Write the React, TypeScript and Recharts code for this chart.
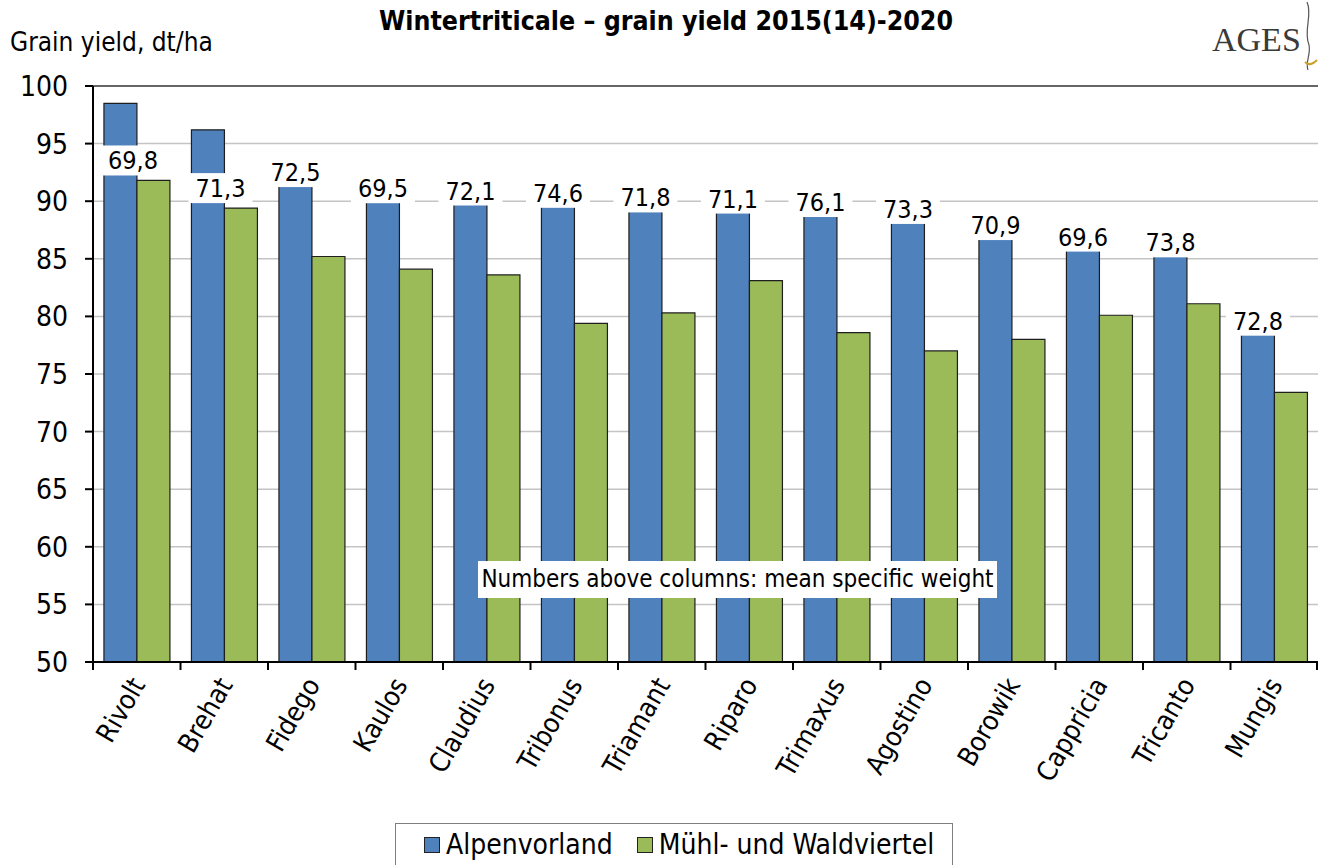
import React from "react";
import {
  Bar,
  BarChart,
  CartesianGrid,
  LabelList,
  ReferenceLine,
  XAxis,
  YAxis,
} from "recharts";

const categories = [
  "Rivolt", "Brehat", "Fidego", "Kaulos", "Claudius", "Tribonus", "Triamant",
  "Riparo", "Trimaxus", "Agostino", "Borowik", "Cappricia", "Tricanto", "Mungis",
];
const alpenvorland = [98.5, 96.2, 91.4, 90.0, 89.8, 89.6, 89.2, 89.1, 88.8, 88.2, 86.8, 85.8, 85.3, 78.5];
const muehlWaldviertel = [91.8, 89.4, 85.2, 84.1, 83.6, 79.4, 80.3, 83.1, 78.6, 77.0, 78.0, 80.1, 81.1, 73.4];
const specificWeight = ["69,8", "71,3", "72,5", "69,5", "72,1", "74,6", "71,8", "71,1", "76,1", "73,3", "70,9", "69,6", "73,8", "72,8"];
const yTicks = [50, 55, 60, 65, 70, 75, 80, 85, 90, 95, 100];

const FONT = "'DejaVu Sans Condensed', 'Noto Sans', sans-serif";
const BLUE = "#4f81bd";
const GREEN = "#9bbb59";
const W = 1318;
const H = 865;
const PLOT_LEFT = 93;
const PLOT_TOP = 86;
const PLOT_BOTTOM = 662;
const X_AXIS_H = 30;
const STEP = (W - PLOT_LEFT) / categories.length;

const data = categories.map((name, i) => ({
  name,
  alpen: alpenvorland[i],
  muehl: muehlWaldviertel[i],
  sw: specificWeight[i],
}));

// tall blue bars get their label over the green bar (as in the original)
const overGreen = (i: number) => alpenvorland[i] > 93;

function WeightBox({ cx, cy, value }: { cx: number; cy: number; value: string }) {
  return (
    <g>
      <rect x={cx - 32} y={cy - 15} width={64} height={30} fill="#fff" />
      <text x={cx} y={cy} dy="0.36em" textAnchor="middle" fontSize={25} fontFamily={FONT} fill="#000">
        {value}
      </text>
    </g>
  );
}

const blueLabel = (props: any) => {
  const { x, y, width, value, index } = props;
  if (overGreen(index)) return null;
  return <WeightBox cx={x + width / 2} cy={y - 13} value={value} />;
};

const greenLabel = (props: any) => {
  const { x, y, index } = props;
  if (!overGreen(index)) return null;
  return <WeightBox cx={x - 4} cy={y - 20} value={specificWeight[index]} />;
};

const CategoryTick = (props: any) => {
  const { x, y, payload, index } = props;
  const left = x - STEP / 2;
  return (
    <g>
      <line x1={left} y1={y} x2={left} y2={y + 8} stroke="#000" strokeWidth={2} />
      {index === categories.length - 1 && (
        <line x1={x + STEP / 2 - 1} y1={y} x2={x + STEP / 2 - 1} y2={y + 8} stroke="#000" strokeWidth={2} />
      )}
      <text
        x={x + 1}
        y={y + 18}
        textAnchor="end"
        dy="0.35em"
        fontSize={27}
        fontFamily={FONT}
        fill="#000"
        transform={`rotate(-60, ${x + 1}, ${y + 18})`}
      >
        {payload.value}
      </text>
    </g>
  );
};

function Swatch({ color }: { color: string }) {
  return (
    <span
      style={{
        display: "inline-block",
        width: 14,
        height: 14,
        background: color,
        border: "1px solid #222",
        marginRight: 6,
      }}
    />
  );
}

export default function App() {
  return (
    <div style={{ position: "absolute", left: 0, top: 0, width: W, height: H, background: "#fff", fontFamily: FONT, overflow: "hidden" }}>
      <div style={{ position: "absolute", left: 0, width: W, top: 5, textAlign: "center", fontSize: 26.5, fontWeight: "bold", paddingLeft: 14, boxSizing: "border-box" }}>
        Wintertriticale – grain yield 2015(14)-2020
      </div>
      <div style={{ position: "absolute", left: 10, top: 27, fontSize: 26 }}>Grain yield, dt/ha</div>
      <div style={{ position: "absolute", left: 1212, top: 21, fontSize: 34, fontFamily: "'Liberation Serif', serif", color: "#3a3a3a" }}>
        AGES
      </div>
      <svg style={{ position: "absolute", left: 1300, top: 0 }} width={18} height={75}>
        <path d="M7 2 C 13 15, 3 30, 9 45 C 11 55, 5 62, 8 70" stroke="#555" strokeWidth={1.2} fill="none" />
        <path d="M5 62 C 9 66, 13 64, 17 60" stroke="#c9a227" strokeWidth={2} fill="none" />
      </svg>

      <BarChart
        width={W}
        height={H}
        data={data}
        margin={{ top: PLOT_TOP, right: 0, left: 0, bottom: H - PLOT_BOTTOM - X_AXIS_H }}
        barCategoryGap="12.5%"
        barGap={0}
      >
        <CartesianGrid vertical={false} stroke="#c4c4c4" strokeWidth={1.5} />
        <XAxis
          dataKey="name"
          height={X_AXIS_H}
          interval={0}
          tickLine={false}
          tickSize={0}
          tickMargin={0}
          axisLine={{ stroke: "#000", strokeWidth: 2 }}
          tick={<CategoryTick />}
        />
        <YAxis
          width={PLOT_LEFT}
          domain={[50, 100]}
          ticks={yTicks}
          interval={0}
          tickSize={8}
          tickMargin={17}
          axisLine={{ stroke: "#000", strokeWidth: 2 }}
          tickLine={{ stroke: "#000", strokeWidth: 2 }}
          tick={{ fontSize: 28, fill: "#000", fontFamily: FONT }}
        />
        <ReferenceLine y={100} stroke="#666" strokeWidth={2} />
        <Bar dataKey="alpen" fill={BLUE} stroke="#1e1e1e" strokeWidth={1.2} isAnimationActive={false}>
          <LabelList dataKey="sw" content={blueLabel} />
        </Bar>
        <Bar dataKey="muehl" fill={GREEN} stroke="#1e1e1e" strokeWidth={1.2} isAnimationActive={false}>
          <LabelList dataKey="sw" content={greenLabel} />
        </Bar>
      </BarChart>

      <div
        style={{
          position: "absolute",
          left: 478,
          top: 561,
          width: 519,
          height: 37,
          lineHeight: "37px",
          background: "#fff",
          textAlign: "center",
          fontSize: 24,
        }}
      >
        Numbers above columns: mean specific weight
      </div>

      <div
        style={{
          position: "absolute",
          left: 395,
          top: 823,
          width: 558,
          height: 50,
          border: "1.5px solid #7f7f7f",
          boxSizing: "border-box",
          display: "flex",
          alignItems: "flex-start",
          paddingTop: 4,
          paddingLeft: 28,
          fontSize: 28,
        }}
      >
        <span style={{ display: "flex", alignItems: "center", marginRight: 24 }}>
          <Swatch color={BLUE} />
          Alpenvorland
        </span>
        <span style={{ display: "flex", alignItems: "center" }}>
          <Swatch color={GREEN} />
          Mühl- und Waldviertel
        </span>
      </div>
    </div>
  );
}
